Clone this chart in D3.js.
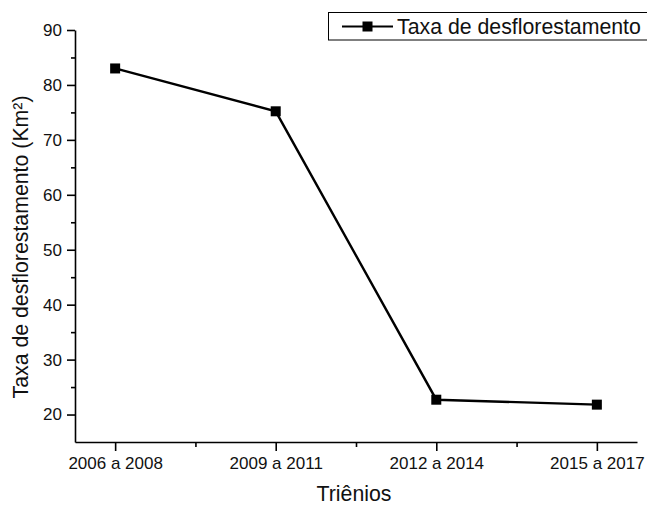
<!DOCTYPE html>
<html>
<head>
<meta charset="utf-8">
<script src="https://cdn.jsdelivr.net/npm/d3@7"></script>
<style>
  html, body { margin: 0; padding: 0; background: #fff; }
  svg { display: block; font-family: Arial, "Liberation Sans", sans-serif; }
</style>
</head>
<body>
<svg id="chart" width="647" height="505"></svg>
<script>
// Deforestation rate per three-year period
const periods = ["2006 a 2008", "2009 a 2011", "2012 a 2014", "2015 a 2017"];
const rates = [83.0, 75.2, 22.7, 21.8];
const yTicks = [20, 30, 40, 50, 60, 70, 80, 90];
const yMinorTicks = [25, 35, 45, 55, 65, 75, 85];
const seriesName = "Taxa de desflorestamento";
const xTitle = "Triênios";
const yTitle = "Taxa de desflorestamento (Km²)";

const svg = d3.select("#chart");
const plotLeft = 75, plotRight = 637, plotTop = 30, plotBottom = 442;

const x = d3.scaleLinear().domain([0.75, periods.length + 0.25]).range([plotLeft, plotRight]);
const y = d3.scaleLinear().domain([15, 90]).range([plotBottom, plotTop]);

// X axis: major ticks at each period, minor ticks between them
const xAxis = d3.axisBottom(x)
  .tickValues(periods.map((d, i) => i + 1))
  .tickFormat(i => periods[i - 1])
  .tickSizeInner(9).tickSizeOuter(0).tickPadding(6);
const gx = svg.append("g").attr("transform", `translate(0,${plotBottom})`).call(xAxis);
gx.select(".domain").attr("stroke-width", 1.6);
gx.selectAll(".tick line").attr("stroke-width", 1.6);
gx.selectAll(".tick text").attr("font-size", 17).attr("fill", "#111");
const gxm = svg.append("g").attr("transform", `translate(0,${plotBottom})`)
  .call(d3.axisBottom(x).tickValues(d3.range(1.5, periods.length, 1)).tickSize(5).tickFormat(""));
gxm.select(".domain").remove();
gxm.selectAll(".tick line").attr("stroke-width", 1.6);

// Y axis
const yAxis = d3.axisLeft(y).tickValues(yTicks).tickSizeInner(8).tickSizeOuter(0).tickPadding(5);
const gy = svg.append("g").attr("transform", `translate(${plotLeft},0)`).call(yAxis);
gy.select(".domain").attr("stroke-width", 1.6);
gy.selectAll(".tick line").attr("stroke-width", 1.6);
gy.selectAll(".tick text").attr("font-size", 17).attr("fill", "#111");
const gym = svg.append("g").attr("transform", `translate(${plotLeft},0)`)
  .call(d3.axisLeft(y).tickValues(yMinorTicks).tickSize(4).tickFormat(""));
gym.select(".domain").remove();
gym.selectAll(".tick line").attr("stroke-width", 1.6);

// Axis titles
svg.append("text").attr("x", (plotLeft + plotRight) / 2 - 2).attr("y", 501)
  .attr("text-anchor", "middle").attr("font-size", 21.3).attr("fill", "#111").text(xTitle);
svg.append("text").attr("transform", `translate(27.5,247) rotate(-90)`)
  .attr("text-anchor", "middle").attr("font-size", 21.3).attr("fill", "#111").text(yTitle);

// Series line and square markers
const line = d3.line().x((d, i) => x(i + 1)).y(d => y(d));
svg.append("path").datum(rates).attr("d", line)
  .attr("fill", "none").attr("stroke", "#000").attr("stroke-width", 2.4);
const ms = 10;
svg.selectAll("rect.marker").data(rates).join("rect").attr("class", "marker")
  .attr("x", (d, i) => x(i + 1) - ms / 2).attr("y", d => y(d) - ms / 2)
  .attr("width", ms).attr("height", ms).attr("fill", "#000");

// Legend
const lg = svg.append("g");
lg.append("rect").attr("x", 328.5).attr("y", 12.5).attr("width", 330).attr("height", 27.5)
  .attr("fill", "#fff").attr("stroke", "#000").attr("stroke-width", 1);
lg.append("line").attr("x1", 342).attr("x2", 393).attr("y1", 26.5).attr("y2", 26.5)
  .attr("stroke", "#000").attr("stroke-width", 2.2);
lg.append("rect").attr("x", 367.5 - ms / 2).attr("y", 26.5 - ms / 2)
  .attr("width", ms).attr("height", ms).attr("fill", "#000");
lg.append("text").attr("x", 397).attr("y", 33.5).attr("font-size", 21.3).attr("fill", "#111").text(seriesName);
</script>
</body>
</html>
